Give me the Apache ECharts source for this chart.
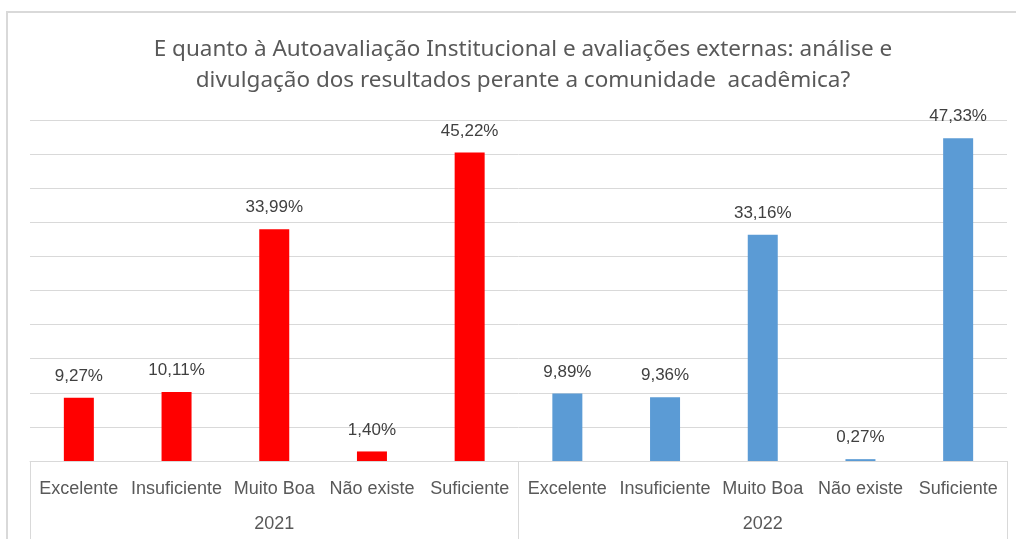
<!DOCTYPE html>
<html>
<head>
<meta charset="utf-8">
<script src="https://cdn.jsdelivr.net/npm/echarts@6/dist/echarts.min.js"></script>
<style>
  html, body { margin: 0; padding: 0; background: #fff; }
  #chart { width: 1016px; height: 539px; }
</style>
</head>
<body>
<div id="chart"></div>
<script>
const categories = ['Excelente', 'Insuficiente', 'Muito Boa', 'Não existe', 'Suficiente']
const years = ['2021', '2022']
const values2021 = [9.27, 10.11, 33.99, 1.40, 45.22]
const values2022 = [9.89, 9.36, 33.16, 0.27, 47.33]
const yearColors = ['#FF0000', '#5B9BD5']

const fontFamily = '"Liberation Sans", Arial, sans-serif'

// one bar per (year, category) on a flat category axis; the year axis sits below it
const labels = []
const barData = []
;[values2021, values2022].forEach((vals, yi) => {
  vals.forEach((v, ci) => {
    labels.push(categories[ci])
    barData.push({ value: v, itemStyle: { color: yearColors[yi] } })
  })
})

const chart = echarts.init(document.getElementById('chart'), null, { renderer: 'canvas' })

chart.setOption({
  animation: false,
  title: {
    text: 'E quanto à Autoavaliação Institucional e avaliações externas: análise e\ndivulgação dos resultados perante a comunidade  acadêmica?',
    left: 518,
    top: 29,
    textAlign: 'center',
    textStyle: {
      fontFamily: '"Noto Sans", sans-serif',
      fontSize: 22.5,
      fontWeight: 'normal',
      color: '#595959',
      lineHeight: 31
    }
  },
  graphic: [
    {
      type: 'polyline',
      silent: true,
      shape: { points: [[7, 539], [7, 12], [1016, 12]] },
      style: { stroke: '#d9d9d9', lineWidth: 2, fill: null }
    }
  ],
  grid: { left: 30, right: 9, top: 120, bottom: 78 },
  xAxis: [
    {
      type: 'category',
      data: labels,
      axisLine: { show: true, lineStyle: { color: '#d9d9d9', width: 1 } },
      axisTick: { show: false },
      axisLabel: {
        interval: 0,
        margin: 19,
        fontFamily,
        fontSize: 18,
        color: '#595959'
      }
    },
    {
      type: 'category',
      data: years,
      position: 'bottom',
      axisLine: { show: false },
      axisTick: { show: true, length: 80, interval: 0, lineStyle: { color: '#d9d9d9', width: 1 } },
      axisLabel: {
        margin: 54,
        fontFamily,
        fontSize: 18,
        color: '#595959'
      }
    }
  ],
  yAxis: {
    type: 'value',
    min: 0,
    max: 50,
    interval: 5,
    axisLabel: { show: false },
    axisLine: { show: false },
    axisTick: { show: false },
    splitLine: { lineStyle: { color: '#d9d9d9', width: 1 } }
  },
  series: [
    {
      type: 'bar',
      xAxisIndex: 0,
      barWidth: 30,
      data: barData,
      label: {
        show: true,
        position: 'top',
        distance: 13,
        fontFamily,
        fontSize: 17,
        color: '#404040',
        formatter: p => p.value.toFixed(2).replace('.', ',') + '%'
      }
    }
  ]
})
</script>
</body>
</html>
